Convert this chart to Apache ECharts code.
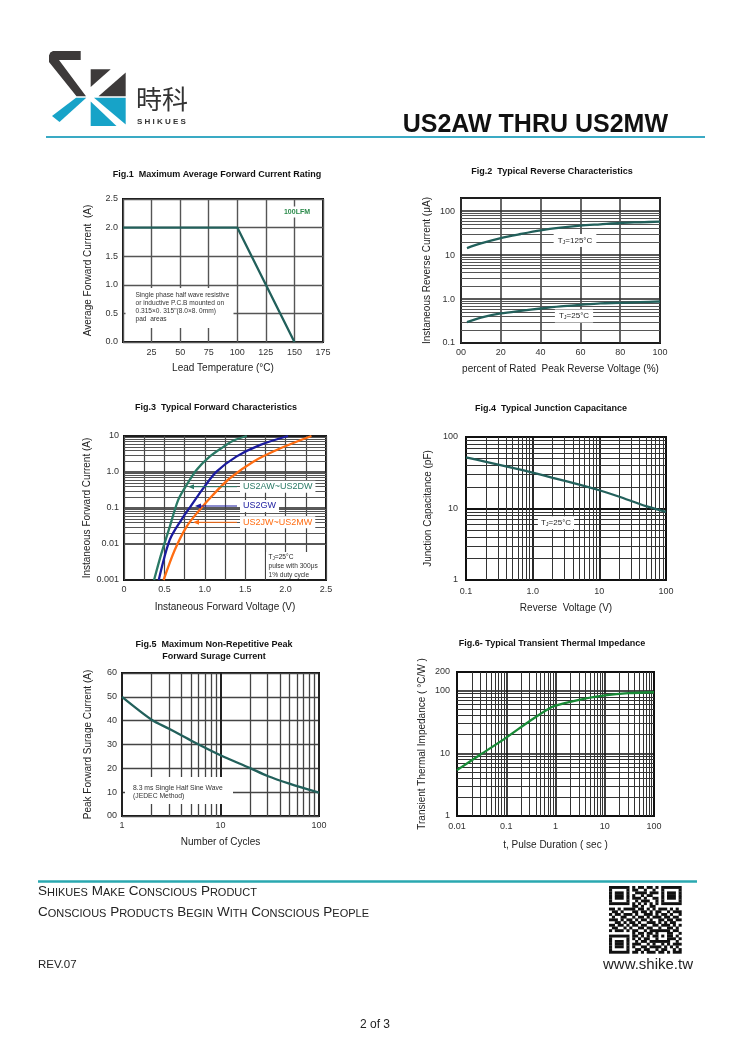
<!DOCTYPE html>
<html><head><meta charset="utf-8">
<script src="https://cdn.jsdelivr.net/npm/echarts@6/dist/echarts.min.js"></script>
<style>html,body{margin:0;padding:0;background:#fff}#c{width:750px;height:1061px}</style>
</head><body><div id="c"></div>
<script>
// ---------------- DATA ----------------
// Fig.1
const fig1Temp = [0, 100, 150];
const fig1Current = [2.0, 2.0, 0.0];
const fig1XTickValues = [25, 50, 75, 100, 125, 150, 175];
const fig1XTickLabels = ['25', '50', '75', '100', '125', '150', '175'];
const fig1YTickValues = [0, 0.5, 1, 1.5, 2, 2.5];
const fig1YTickLabels = ['0.0', '0.5', '1.0', '1.5', '2.0', '2.5'];
// Fig.2
const fig2Percent = [3, 10, 20, 30, 40, 50, 60, 70, 80, 90, 100];
const fig2Tj125 = [14.5, 18.5, 24.5, 30.3, 36.7, 42.3, 47, 50.4, 54, 56, 58];
const fig2Tj25 = [0.30, 0.38, 0.47, 0.54, 0.61, 0.68, 0.74, 0.80, 0.82, 0.85, 0.88];
const fig2XTickValues = [0, 20, 40, 60, 80, 100];
const fig2XTickLabels = ['00', '20', '40', '60', '80', '100'];
const fig2YTickValues = [0.1, 1, 10, 100];
const fig2YTickLabels = ['0.1', '1.0', '10', '100'];
// Fig.3
const fig3VoltAD = [0.372, 0.463, 0.566, 0.67, 0.773, 0.897, 1.06, 1.23, 1.35, 1.52];
const fig3CurrAD = [0.001, 0.0055, 0.030, 0.166, 0.43, 1.14, 2.67, 5.0, 7.4, 10];
const fig3VoltG = [0.43, 0.566, 0.71, 0.835, 0.98, 1.145, 1.39, 1.68, 2.03];
const fig3CurrG = [0.001, 0.013, 0.047, 0.12, 0.35, 1.02, 2.67, 5.6, 10];
const fig3VoltJM = [0.49, 0.628, 0.773, 0.917, 1.10, 1.31, 1.60, 1.93, 2.32];
const fig3CurrJM = [0.001, 0.0068, 0.030, 0.079, 0.23, 0.67, 1.94, 4.5, 10];
const fig3XTickValues = [0, 0.5, 1, 1.5, 2, 2.5];
const fig3XTickLabels = ['0', '0.5', '1.0', '1.5', '2.0', '2.5'];
const fig3YTickValues = [0.001, 0.01, 0.1, 1, 10];
const fig3YTickLabels = ['0.001', '0.01', '0.1', '1.0', '10'];
// Fig.4
const fig4Volt = [0.1, 0.2, 0.5, 1, 2, 5, 10, 20, 50, 100];
const fig4Cap = [52, 45, 37, 31.8, 26.8, 21.6, 18, 14.6, 10.8, 9.0];
const fig4XTickValues = [0.1, 1, 10, 100];
const fig4XTickLabels = ['0.1', '1.0', '10', '100'];
const fig4YTickValues = [1, 10, 100];
const fig4YTickLabels = ['1', '10', '100'];
// Fig.5
const fig5Cycles = [1, 2, 3, 5, 10, 20, 30, 50, 100];
const fig5Current = [50, 40.4, 36.6, 31.7, 25.5, 20.1, 16.8, 13.6, 9.8];
const fig5XTickValues = [1, 10, 100];
const fig5XTickLabels = ['1', '10', '100'];
const fig5YTickValues = [0, 10, 20, 30, 40, 50, 60];
const fig5YTickLabels = ['00', '10', '20', '30', '40', '50', '60'];
// Fig.6
const fig6Time = [0.01, 0.03, 0.1, 0.3, 0.7, 1, 3, 10, 30, 100];
const fig6Imp = [5.4, 9.6, 17.9, 33, 51, 58, 72, 84.5, 92, 95];
const fig6XTickValues = [0.01, 0.1, 1, 10, 100];
const fig6XTickLabels = ['0.01', '0.1', '1', '10', '100'];
const fig6YTickValues = [1, 10, 100, 200];
const fig6YTickLabels = ['1', '10', '100', '200'];

// ---------------- HELPERS ----------------
const FONT = '"Liberation Sans", Arial, sans-serif';
const zip = (a, b) => a.map((v, i) => [v, b[i]]);
function labelFor(values, labels, v, log) {
  for (let i = 0; i < values.length; i++) {
    const t = values[i];
    if (log ? Math.abs(v / t - 1) < 1e-6 : Math.abs(v - t) < 1e-9) return labels[i];
  }
  return '';
}
function logMinors(lo, hi) {
  const out = [];
  for (let e = Math.floor(Math.log10(lo)); e <= Math.ceil(Math.log10(hi)); e++) {
    for (let d = 2; d <= 9; d++) {
      const v = +(d * Math.pow(10, e)).toPrecision(6);
      if (v > lo * 1.0001 && v < hi * 0.9999) out.push(v);
    }
  }
  return out;
}
const lbl = (m) => ({ fontSize: 9, color: '#333', fontFamily: FONT, margin: m });
const nameStyle = { fontSize: 10, color: '#222', fontFamily: FONT };

const grids = [
  { left: 123, top: 199, width: 200, height: 143 },
  { left: 461, top: 198, width: 199, height: 145 },
  { left: 124, top: 436, width: 202, height: 144 },
  { left: 466, top: 437, width: 200, height: 143 },
  { left: 122, top: 673, width: 197, height: 143 },
  { left: 457, top: 672, width: 197, height: 144 }
].map(g => Object.assign(g, { show: true, borderColor: '#111', borderWidth: 2, backgroundColor: '#fff', containLabel: false, outerBoundsMode: 'none' }));

function axis(o) {
  return Object.assign({
    axisLine: { show: false }, axisTick: { show: false },
    nameLocation: 'middle', nameTextStyle: nameStyle
  }, o);
}
const sl = (color, width) => ({ show: true, lineStyle: { color, width, type: 'solid' } });

const xAxes = [
  axis({ gridIndex: 0, type: 'value', min: 0, max: 175, interval: 25, splitLine: sl('#555', 1.4),
    axisLabel: Object.assign(lbl(6), { formatter: v => labelFor(fig1XTickValues, fig1XTickLabels, v) }),
    name: 'Lead Temperature (°C)', nameGap: 21 }),
  axis({ gridIndex: 1, type: 'value', min: 0, max: 100, interval: 20, splitLine: sl('#333', 1.5),
    axisLabel: Object.assign(lbl(5), { formatter: v => labelFor(fig2XTickValues, fig2XTickLabels, v) }),
    name: 'percent of Rated  Peak Reverse Voltage (%)', nameGap: 21 }),
  axis({ gridIndex: 2, type: 'value', min: 0, max: 2.5, interval: 0.25, splitLine: sl('#444', 1.2),
    axisLabel: Object.assign(lbl(5), { formatter: v => labelFor(fig3XTickValues, fig3XTickLabels, v) }),
    name: 'Instaneous Forward Voltage (V)', nameGap: 22 }),
  axis({ gridIndex: 3, type: 'log', logBase: 10, min: 0.1, max: 100, splitLine: sl('#111', 1.8),
    axisLabel: Object.assign(lbl(7), { formatter: v => labelFor(fig4XTickValues, fig4XTickLabels, v, true) }),
    name: 'Reverse  Voltage (V)', nameGap: 23 }),
  axis({ gridIndex: 4, type: 'log', logBase: 10, min: 1, max: 100, splitLine: sl('#222', 2),
    axisLabel: Object.assign(lbl(5), { formatter: v => labelFor(fig5XTickValues, fig5XTickLabels, v, true) }),
    name: 'Number of Cycles', nameGap: 21 }),
  axis({ gridIndex: 5, type: 'log', logBase: 10, min: 0.01, max: 100, splitLine: sl('#111', 1.6),
    axisLabel: Object.assign(lbl(6), { formatter: v => labelFor(fig6XTickValues, fig6XTickLabels, v, true) }),
    name: 't, Pulse Duration ( sec )', nameGap: 24 })
];
const yAxes = [
  axis({ gridIndex: 0, type: 'value', min: 0, max: 2.5, interval: 0.5, splitLine: sl('#555', 1.4),
    axisLabel: Object.assign(lbl(5), { formatter: v => labelFor(fig1YTickValues, fig1YTickLabels, v) }),
    name: 'Average Forward Current  (A)', nameGap: 30 }),
  axis({ gridIndex: 1, type: 'log', logBase: 10, min: 0.1, max: 200, splitLine: sl('#222', 1.6),
    axisLabel: Object.assign(lbl(6), { formatter: v => labelFor(fig2YTickValues, fig2YTickLabels, v, true) }),
    name: 'Instaneous Reverse Current (μA)', nameGap: 29 }),
  axis({ gridIndex: 2, type: 'log', logBase: 10, min: 0.001, max: 10, splitLine: sl('#222', 1.6),
    axisLabel: Object.assign(lbl(5), { formatter: v => labelFor(fig3YTickValues, fig3YTickLabels, v, true) }),
    name: 'Instaneous Forward Current (A)', nameGap: 32 }),
  axis({ gridIndex: 3, type: 'log', logBase: 10, min: 1, max: 100, splitLine: sl('#111', 1.8),
    axisLabel: Object.assign(lbl(8), { formatter: v => labelFor(fig4YTickValues, fig4YTickLabels, v, true) }),
    name: 'Junction Capacitance (pF)', nameGap: 33 }),
  axis({ gridIndex: 4, type: 'value', min: 0, max: 60, interval: 10, splitLine: sl('#444', 1.3),
    axisLabel: Object.assign(lbl(5), { formatter: v => labelFor(fig5YTickValues, fig5YTickLabels, v) }),
    name: 'Peak Forward Surage Current (A)', nameGap: 29 }),
  axis({ gridIndex: 5, type: 'log', logBase: 10, min: 1, max: 200, splitLine: sl('#111', 1.6),
    axisLabel: Object.assign(lbl(7), { formatter: v => labelFor(fig6YTickValues, fig6YTickLabels, v, true) }),
    name: 'Transient Thermal Impedance ( °C/W )', nameGap: 30 })
];

function mk(lines, color, width) {
  return { silent: true, z: 1, animation: false, symbol: ['none', 'none'], label: { show: false },
    emphasis: { disabled: true }, lineStyle: { color, width, type: 'solid' }, data: lines };
}
const xl = arr => arr.map(v => ({ xAxis: v }));
const yl = arr => arr.map(v => ({ yAxis: v }));

function line(gi, data, color, extra) {
  return Object.assign({ type: 'line', xAxisIndex: gi, yAxisIndex: gi, data, symbol: 'none', z: 5,
    smooth: 0.3, silent: true, lineStyle: { color, width: 2.3 } }, extra || {});
}
const TEAL = '#22605b';
const series = [
  line(0, zip(fig1Temp, fig1Current), TEAL, { smooth: false }),
  line(1, zip(fig2Percent, fig2Tj125), TEAL, { markLine: mk(yl(logMinors(0.1, 200)), '#555', 1) }),
  line(1, zip(fig2Percent, fig2Tj25), TEAL),
  line(2, zip(fig3VoltAD, fig3CurrAD), '#2b7a66', { markLine: mk(yl(logMinors(0.001, 10)), '#555', 1) }),
  line(2, zip(fig3VoltG, fig3CurrG), '#1b1b9e'),
  line(2, zip(fig3VoltJM, fig3CurrJM), '#ff6d12'),
  line(3, zip(fig4Volt, fig4Cap), TEAL, { smooth: 0.2, markLine: mk(xl(logMinors(0.1, 100)).concat(yl(logMinors(1, 100))), '#333', 1) }),
  line(4, zip(fig5Cycles, fig5Current), TEAL, { markLine: mk(xl(logMinors(1, 100)), '#444', 1.3) }),
  line(5, zip(fig6Time, fig6Imp), '#188a36', { markLine: mk(xl(logMinors(0.01, 100)).concat(yl(logMinors(1, 200))), '#333', 1) })
];

// ---------------- GRAPHICS ----------------
const G = [];
function txt(x, y, text, o) {
  o = o || {};
  const el = { type: 'text', x, y, z: o.z || 60, style: Object.assign({
    text, fill: '#222', fontSize: 9, fontFamily: FONT, fontWeight: 'normal',
    align: 'left', verticalAlign: 'middle' }, o.style || {}) };
  G.push(el);
  return el;
}
function rect(x, y, w, h, fill, z) {
  G.push({ type: 'rect', z: z || 55, shape: { x, y, width: w, height: h }, style: { fill } });
}
function poly(points, fill, z) {
  G.push({ type: 'polygon', z: z || 60, shape: { points }, style: { fill } });
}
function hline(x1, x2, y, color, w, z) {
  G.push({ type: 'line', z: z || 60, shape: { x1, y1: y, x2, y2: y }, style: { stroke: color, lineWidth: w } });
}

// header logo
const DARK = '#3d3a3a', BLUE = '#17a3c8';
poly([[53, 51], [80.7, 51], [80.7, 60], [59, 60], [86, 96.3], [76.5, 96.3], [49, 62], [49, 55.5], [50.3, 52.5]], DARK);
poly([[90.7, 69.3], [110.7, 69.3], [90.7, 87]], DARK);
poly([[125.7, 72.5], [125.7, 96.3], [98.5, 96.3]], DARK);
poly([[76, 97.8], [86.3, 97.8], [59.5, 122], [52, 116]], BLUE);
poly([[90.7, 101.5], [90.7, 126], [116.5, 126]], BLUE);
poly([[94, 97.8], [125.7, 97.8], [125.7, 124.5]], BLUE);
txt(136, 99, '時科', { style: { fontSize: 26, fontFamily: '"Noto Sans CJK SC", sans-serif', fill: '#333' } });
txt(137, 122, 'S H I K U E S', { style: { fontSize: 8, fontWeight: 'bold', fill: '#333' } });
txt(668, 125, 'US2AW THRU US2MW', { style: { fontSize: 25, fontWeight: 'bold', fill: '#111', align: 'right' } });
hline(46, 705, 137, '#3aaac4', 2);

// figure titles
const titles = [
  ['Fig.1  Maximum Average Forward Current Rating', 217, 175],
  ['Fig.2  Typical Reverse Characteristics', 552, 172],
  ['Fig.3  Typical Forward Characteristics', 216, 408],
  ['Fig.4  Typical Junction Capacitance', 551, 409],
  ['Fig.5  Maximum Non-Repetitive Peak', 214, 645],
  ['Forward Surage Current', 214, 656.5],
  ['Fig.6- Typical Transient Thermal Impedance', 552, 644]
];
titles.forEach(t => txt(t[1], t[2], t[0], { style: { fontSize: 9, fontWeight: 'bold', fill: '#111', align: 'center' } }));

// Fig.1 annotations
txt(297, 212, '100LFM', { style: { fontSize: 7, fontWeight: 'bold', fill: '#2a8a4a', align: 'center', backgroundColor: '#fff', padding: [2, 2] } });
rect(125.5, 288, 108, 40, '#fff');
['Single phase half wave resistive', 'or inductive P.C.B mounted on', '0.315×0. 315"(8.0×8. 0mm)', 'pad  areas']
  .forEach((s, i) => txt(135.5, 295 + i * 8.1, s, { style: { fontSize: 6.6, fill: '#333' } }));

// Fig.2 annotations
const tjRich = (fs) => ({ t: { fontSize: fs, fontFamily: FONT, fill: '#222' }, s: { fontSize: fs * 0.7, fontFamily: FONT, fill: '#222', padding: [3, 0, 0, 0] } });
txt(575, 240.5, '{t|T}{s|J}{t|=125°C}', { style: { align: 'center', rich: tjRich(8), backgroundColor: '#fff', padding: [2, 4] } });
txt(574, 316, '{t|T}{s|J}{t|=25°C}', { style: { align: 'center', rich: tjRich(8), backgroundColor: '#fff', padding: [2, 4] } });

// Fig.3 annotations
const f3labels = [['US2AW~US2DW', '#2b7a66', 486.7, 188], ['US2GW', '#1b1b9e', 506, 195], ['US2JW~US2MW', '#ff6d12', 522.3, 193]];
f3labels.forEach(l => {
  txt(240, l[2], l[0], { style: { fontSize: 9, fill: l[1], backgroundColor: '#fff', padding: [1.5, 3] } });
  hline(l[3] + 4, 237, l[2], l[1], 1, 61);
  poly([[l[3], l[2]], [l[3] + 6, l[2] - 2.5], [l[3] + 6, l[2] + 2.5]], l[1], 61);
});
rect(266, 552, 59, 27, '#fff');
txt(268.5, 557, '{t|T}{s|J}{t|=25°C}', { style: { rich: tjRich(6.6) } });
txt(268.5, 566, 'pulse with 300μs', { style: { fontSize: 6.6, fill: '#333' } });
txt(268.5, 575, '1% duty cycle', { style: { fontSize: 6.6, fill: '#333' } });

// Fig.4 annotation
txt(556, 522.7, '{t|T}{s|J}{t|=25°C}', { style: { align: 'center', rich: tjRich(8), backgroundColor: '#fff', padding: [2, 3] } });

// Fig.5 annotation
rect(125, 777, 108, 27, '#fff');
txt(133, 787.7, '8.3 ms Single Half Sine Wave', { style: { fontSize: 6.8, fill: '#333' } });
txt(133, 795.7, '(JEDEC Method)', { style: { fontSize: 6.8, fill: '#333' } });

// footer
hline(38, 697, 881.5, '#2aa8b0', 2.4);
function smallCaps(str) {
  return str.split(' ').map(w => '{b|' + w[0] + '}{s|' + w.slice(1).toUpperCase() + '}').join('{b| }');
}
const scRich = { b: { fontSize: 13.5, fontFamily: FONT, fill: '#222', verticalAlign: 'bottom' }, s: { fontSize: 11, fontFamily: FONT, fill: '#222', verticalAlign: 'bottom' } };
txt(38, 891, smallCaps('Shikues Make Conscious Product'), { style: { rich: scRich } });
txt(38, 912, smallCaps('Conscious Products Begin With Conscious People'), { style: { rich: scRich } });
txt(38, 965, 'REV.07', { style: { fontSize: 11.5, fill: '#222' } });
txt(693, 965, 'www.shike.tw', { style: { fontSize: 15, fill: '#222', align: 'right' } });
txt(375, 1025, '2 of 3', { style: { fontSize: 12, fill: '#222', align: 'center' } });

// QR code (decorative)
const qrRows = [
  '1111111010110110101111111',
  '1000001011001001001000001',
  '1011101001111011101011101',
  '1011101010010110001011101',
  '1011101011101001101011101',
  '1000001001011100101000001',
  '1111111010101010101111111',
  '0000000011010011000000000',
  '1101011110110101011101010',
  '0110100011011010110010111',
  '1011011101001110101101001',
  '0100110010110101110110110',
  '1110101101011010011011011',
  '0011010110100111010101100',
  '1101101011011001101110101',
  '0110010100110110010011010',
  '1011101011001011111110110',
  '0000000010110110100011001',
  '1111111011010101101011010',
  '1000001010101100100011101',
  '1011101001011011111110010',
  '1011101011100101001010111',
  '1011101010011011110101010',
  '1000001001101100101100101',
  '1111111011010111011010111'
];
const qx = 609, qy = 886, mw = 2.9, mh = 2.7;
qrRows.forEach((row, r) => {
  let c = 0;
  while (c < row.length) {
    if (row[c] === '1') {
      let e = c; while (e < row.length && row[e] === '1') e++;
      rect(qx + c * mw, qy + r * mh, (e - c) * mw + 0.2, mh + 0.2, '#111', 60);
      c = e;
    } else c++;
  }
});

// ---------------- CHART ----------------
const chart = echarts.init(document.getElementById('c'), null, { renderer: 'canvas', width: 750, height: 1061 });
chart.setOption({
  animation: false,
  backgroundColor: '#fff',
  textStyle: { fontFamily: FONT },
  grid: grids,
  xAxis: xAxes,
  yAxis: yAxes,
  series: series,
  graphic: G
});
</script></body></html>
